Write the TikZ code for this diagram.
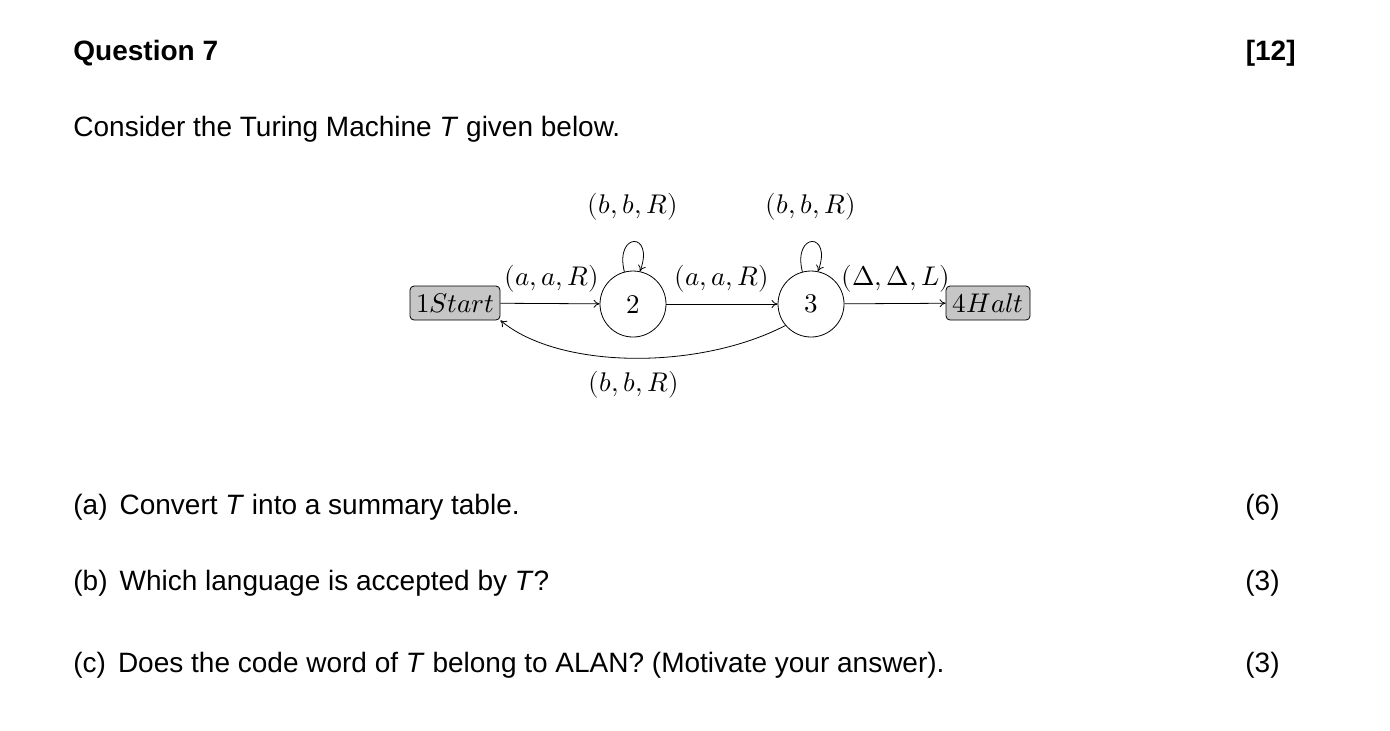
\documentclass[tikz,border=0pt]{standalone}
\usepackage{fontspec}
\setmainfont{Liberation Sans}
\usepackage{unicode-math}
\setmathfont{Latin Modern Math}
\usetikzlibrary{arrows.meta}
\begin{document}
\begin{tikzpicture}[x=0.5pt,y=-0.5pt,
  body/.style={font=\fontsize{14}{16}\selectfont, inner sep=0, anchor=base west},
  rt/.style={font=\fontsize{14}{16}\selectfont, inner sep=0, anchor=base east},
  lab/.style={font=\fontsize{13.5}{16}\selectfont, inner sep=0},
  term/.style={draw, fill=gray!45, rounded corners=2pt, minimum width=45pt, minimum height=17pt, inner sep=1pt, font=\fontsize{13.5}{16}\selectfont},
  st/.style={draw, circle, minimum size=33pt, inner sep=0, font=\fontsize{13.5}{16}\selectfont},
  edge/.style={draw, line width=0.4pt, -{To[length=3pt,width=4pt]}}]
\useasboundingbox (0,0) rectangle (1390,730);
\node[body, font=\fontsize{14}{16}\selectfont\bfseries] (q) at (73,60) {Question 7};
\node[rt, font=\fontsize{14}{16}\selectfont\bfseries] (m) at (1296,60) {[12]};
\node[body] (c) at (73,136) {Consider the Turing Machine \textit{T} given below.};

\node[term] (s1) at (455,303) {$1Start$};
\node[st] (s2) at (633,304) {$2$};
\node[st] (s3) at (811,304) {$3$};
\node[term, minimum width=42pt] (s4) at (988,303) {$4Halt$};

\draw[edge] (s1) -- (s2);
\draw[edge] (s2) -- (s3);
\draw[edge] (s3) -- (s4);
\draw[edge] (s2.105) .. controls +(-10,-40) and +(15,-40) .. (s2.78);
\draw[edge] (s3.105) .. controls +(-10,-40) and +(15,-40) .. (s3.78);
\draw[edge] (s3.220) .. controls (700,370) and (560,370) .. (s1.south east);

\node[lab] (l1) at (552,279) {$(a,a,R)$};
\node[lab] (l2) at (722,279) {$(a,a,R)$};
\node[lab] (l3) at (896,279) {$(\Delta,\Delta,L)$};
\node[lab] (l4) at (633,207) {$(b,b,R)$};
\node[lab] (l5) at (811,207) {$(b,b,R)$};
\node[lab] (l6) at (634,385) {$(b,b,R)$};

\node[body] (a) at (73,514) {(a)\hspace{6pt}Convert \textit{T} into a summary table.};
\node[rt] (a6) at (1280,514) {(6)};
\node[body] (b) at (73,590) {(b)\hspace{6pt}Which language is accepted by \textit{T}?};
\node[rt] (b3) at (1280,590) {(3)};
\node[body] (cc) at (73,672) {(c)\hspace{6pt}Does the code word of \textit{T} belong to ALAN? (Motivate your answer).};
\node[rt] (c3) at (1280,672) {(3)};
\end{tikzpicture}
\end{document}
